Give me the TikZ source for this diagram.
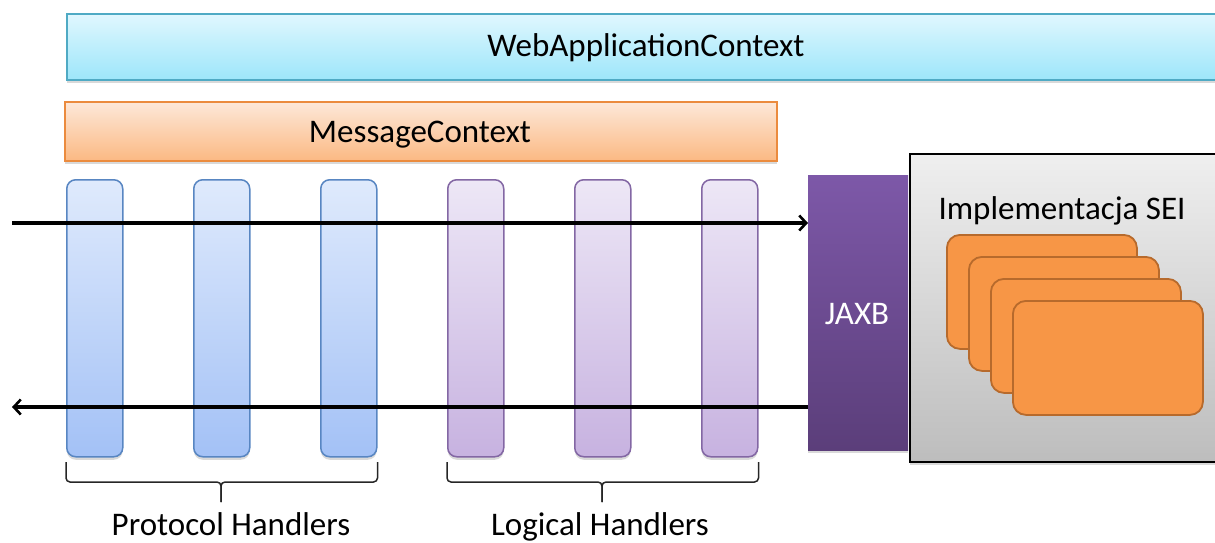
\documentclass[tikz,border=0pt]{standalone}
\usepackage{fontspec}
\setmainfont{Carlito}
\usetikzlibrary{arrows.meta,shadows}

\definecolor{webTop}{HTML}{E0F7FE}
\definecolor{webBot}{HTML}{9DE6FA}
\definecolor{webLine}{HTML}{4FAAC4}
\definecolor{msgTop}{HTML}{FDE8D9}
\definecolor{msgBot}{HTML}{FBB983}
\definecolor{msgLine}{HTML}{EB8B3E}
\definecolor{protTop}{HTML}{DFEAFC}
\definecolor{protBot}{HTML}{A3C1F6}
\definecolor{protLine}{HTML}{5886C2}
\definecolor{logTop}{HTML}{EDE7F6}
\definecolor{logBot}{HTML}{C7B2E0}
\definecolor{logLine}{HTML}{8367A4}
\definecolor{jaxbTop}{HTML}{7D58A8}
\definecolor{jaxbBot}{HTML}{5B3E7A}
\definecolor{seiTop}{HTML}{EFEFEF}
\definecolor{seiBot}{HTML}{BDBDBD}
\definecolor{cardFill}{HTML}{F79646}
\definecolor{cardLine}{HTML}{B76A2C}

\tikzset{
  lbl/.style={font=\fontsize{33}{38}\selectfont},
  softshadow/.style={drop shadow={shadow xshift=0pt,shadow yshift=-3pt,opacity=0.25,fill=black!60}},
  bar/.style={anchor=north west,inner sep=0pt,lbl,softshadow},
  webctx/.style={bar,draw=webLine,line width=1.6pt,top color=webTop,bottom color=webBot},
  msgctx/.style={bar,draw=msgLine,line width=1.6pt,top color=msgTop,bottom color=msgBot},
  handler/.style={anchor=north west,inner sep=0pt,minimum width=56pt,minimum height=277pt,
    rounded corners=9pt,line width=1.5pt,softshadow},
  prothandler/.style={handler,draw=protLine,top color=protTop,bottom color=protBot},
  loghandler/.style={handler,draw=logLine,top color=logTop,bottom color=logBot},
  jaxbbox/.style={anchor=north west,inner sep=0pt,minimum width=100pt,minimum height=275pt,
    top color=jaxbTop,bottom color=jaxbBot,text=white,lbl,softshadow},
  seibox/.style={anchor=north west,inner sep=0pt,minimum width=320pt,minimum height=308pt,
    draw=black,line width=1.6pt,top color=seiTop,bottom color=seiBot,softshadow},
  seicard/.style={anchor=north west,inner sep=0pt,minimum width=190pt,minimum height=114pt,
    rounded corners=13pt,fill=cardFill,draw=cardLine,line width=1.8pt},
  flow/.style={line width=3.2pt,-{Straight Barb[length=7pt,width=15pt,line width=2.6pt]}},
  bracket/.style={line width=1.5pt,draw=black!85,rounded corners=4pt},
}

\begin{document}
\begin{tikzpicture}[x=1pt,y=-1pt]
\useasboundingbox (0,0) rectangle (1215,543);

% context bars
\node[webctx,minimum width=1160pt,minimum height=66pt] (web) at (66,13) {};
\node[lbl,anchor=base] (webtxt) at (646,57) {WebApplicationContext};
\node[msgctx,minimum width=712pt,minimum height=59pt] (msg) at (64,101) {};
\node[lbl,anchor=base] (msgtxt) at (420,142) {MessageContext};

% protocol handlers
\node[prothandler] (p1) at (66,179) {};
\node[prothandler] (p2) at (193,179) {};
\node[prothandler] (p3) at (320,179) {};
% logical handlers
\node[loghandler] (l1) at (447,179) {};
\node[loghandler] (l2) at (574,179) {};
\node[loghandler] (l3) at (701,179) {};

% service implementation
\node[seibox] (sei) at (909,153) {};
\node[lbl,anchor=base] (seititle) at (1062,219) {Implementacja SEI};
\node[seicard] (c1) at (946,234) {};
\node[seicard] (c2) at (968,256) {};
\node[seicard] (c3) at (990,278) {};
\node[seicard] (c4) at (1012,300) {};

% data binding layer
\node[jaxbbox] (jaxb) at (808,175) {};
\node[lbl,anchor=base,text=white] (jaxbtxt) at (857,324) {JAXB};

% message flow
\coordinate (inStart) at (12,223);
\coordinate (outEnd) at (12,407);
\draw[flow] (inStart) -- (inStart -| jaxb.west);
\draw[flow] (outEnd -| jaxb.west) -- (outEnd);

% group brackets
\coordinate (pTip) at (221,502);
\coordinate (lTip) at (602,502);
\draw[bracket] (p1.south west |- 0,462) |- (221,482) -- (pTip);
\draw[bracket] (p3.south east |- 0,462) |- (221,482) -- (pTip);
\draw[bracket] (l1.south west |- 0,462) |- (602,482) -- (lTip);
\draw[bracket] (l3.south east |- 0,462) |- (602,482) -- (lTip);

\node[lbl,anchor=base] (plabel) at (231,535) {Protocol Handlers};
\node[lbl,anchor=base] (llabel) at (600,535) {Logical Handlers};
\end{tikzpicture}
\end{document}
